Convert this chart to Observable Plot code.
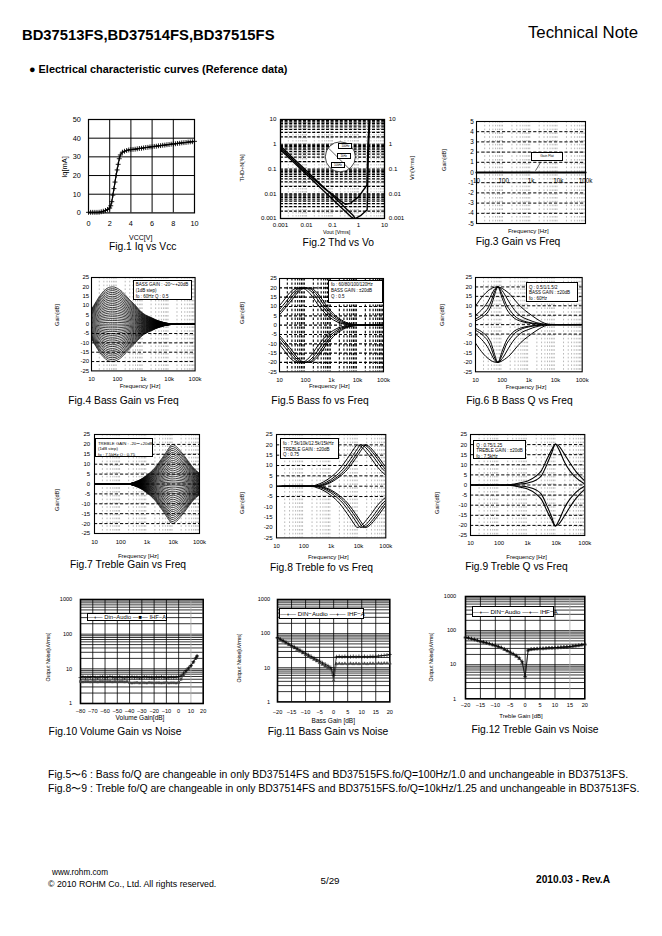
<!DOCTYPE html>
<html><head><meta charset="utf-8">
<script src="https://cdn.jsdelivr.net/npm/d3@7"></script>
<script src="https://cdn.jsdelivr.net/npm/@observablehq/plot@0.6"></script>
<style>
body{margin:0;background:#fff;}
#page{position:relative;width:662px;height:936px;overflow:hidden;font-family:"Liberation Sans",Arial,sans-serif;color:#000;background:#fff;}
.t{position:absolute;white-space:nowrap;line-height:1;}
.lg{position:absolute;background:#fff;border:0.8px solid #000;box-sizing:border-box;line-height:1.3;padding:1.5px 2px;white-space:nowrap;font-family:"Liberation Sans",Arial,sans-serif;}
</style></head><body><div id="page"></div>
<script>
// ================= DATA =================
// Fig.1 Iq vs Vcc
const vcc = [0,0.2,0.4,0.6,0.8,1,1.2,1.4,1.6,1.8,2,2.1,2.2,2.3,2.4,2.5,2.6,2.7,2.8,2.9,3,3.2,3.4,3.6,3.8,4,4.2,4.4,4.6,4.8,5,5.2,5.4,5.6,5.8,6,6.2,6.4,6.6,6.8,7,7.2,7.4,7.6,7.8,8,8.2,8.4,8.6,8.8,9,9.2,9.4,9.6,9.8,10];
const iq  = [0.3,0.3,0.3,0.3,0.3,0.35,0.6,0.9,1.3,1.8,2.6,3.8,6,9.5,13,16.5,20,23,26,29,31,32.5,33,33.4,33.7,33.9,34.0,34.1,34.3,34.5,34.6,34.8,35.0,35.1,35.3,35.4,35.6,35.7,35.9,36.0,36.2,36.3,36.5,36.6,36.8,36.9,37.0,37.2,37.3,37.5,37.6,37.7,37.9,38.0,38.1,38.3];

// Fig.2 THD+N vs Vout (three curves)
const thdAx = [0.001,0.003,0.01,0.03,0.1,0.3,0.6,0.75,1.2,1.8,2.15,2.4,2.7];
const thdAy = [0.85,0.28,0.085,0.028,0.0085,0.0028,0.0014,0.001,0.0013,0.0019,0.0022,0.5,10];
const thdBx = [0.001,0.01,0.1,0.5,0.66];
const thdBy = [0.6,0.06,0.006,0.0012,0.001];
const thdCx = [0.001,0.01,0.05,0.1,0.2,0.32,0.5,1,2.1,2.3,2.6];
const thdCy = [0.7,0.07,0.016,0.0095,0.0052,0.0037,0.0042,0.0075,0.022,1,10];
const logTicks = [0.001,0.01,0.1,1,10];
const logTickLabels = ["0.001","0.01","0.1","1","10"];
const thdNotes = [{x:0.33,y:0.86,t:"100Hz"},{x:0.28,y:0.34,t:"1kHz"},{x:0.17,y:0.148,t:"10kHz"}];
const thdCircle = [{x:0.2,y:0.31}];
const thdSlash = [{x1:0.072,y1:0.68,x2:0.57,y2:0.077}];

// Fig.3 Gain vs Freq (flat)
const flatF = [10,100,1000,10000,100000];
const flatG = [0,0,0,0,0];
const flatPointer = [{x1:1460,y1:0.17,x2:2240,y2:0.98}];

// frequency axis
const freqTicks = [10,100,1000,10000,100000];
const freqLabels = ["10","100","1k","10k","100k"];

// Fig.4 Bass gain (+20 dB envelope, fo 60Hz, Q 0.5), gain steps -20..+20
const bassGainF   = [10,15,20,30,40,50,65,80,100,150,200,300,450,800,1200,2000,3000,5000,7000,10000,20000,100000];
const bassGainEnv = [8,12,14.8,17.8,19.2,19.8,20,19.8,19.2,17.5,15.7,13,10.7,6.8,5,3.6,2.4,1.3,0.7,0.3,0,0];
const bassSteps = [-20,-19,-18,-17,-16,-15,-14,-13,-12,-11,-10,-9,-8,-7,-6,-5,-4,-3,-2,-1,0,1,2,3,4,5,6,7,8,9,10,11,12,13,14,15,16,17,18,19,20];

// Fig.5 Bass fo (shape vs f/fo at +20 dB)
const bassFoList  = [60,80,100,120];
const bassFoRatio = [0.05,0.083,0.1,0.167,0.25,0.33,0.5,0.7,1,1.4,2,3,5,8,12,20,30,50,100,1000,3000];
const bassFoEnv   = [3,5.5,6.8,10.5,13.5,15.8,18.5,19.7,20,19.7,18.3,15.5,11,7.5,5,2.8,1.5,0.6,0.1,0,0];

// Fig.6 Bass Q (fo 60Hz)
const bassQF  = [10,20,30,40,50,69,100,150,200,300,500,1000,2000,3000,5000,10000,100000];
const bassQ05 = [9.8,15.6,18,19.2,19.8,20,19.2,17.5,16,13,9.5,6,3,1.5,0.3,0,0];
const bassQ1  = [5,9,12.5,16,18.5,20,18,14,11,7.5,4.5,2.5,1,0.5,0.1,0,0];
const bassQ15 = [3,6,9,13,17,20,16,10,7.5,4.5,2.5,1.2,0.5,0.2,0,0,0];
const bassQ2  = [2,4.5,7,10.5,15,20,14,8,5.5,3.2,1.8,0.8,0.3,0.1,0,0,0];

// Fig.7 Treble gain (+20 dB envelope, fo 7.5kHz, Q 0.75)
const trebF   = [10,100,200,300,500,1000,2000,3000,5000,7000,9000,12000,20000,30000,50000,100000];
const trebEnv = [0,0,0.1,0.7,1.9,4.5,8.2,11.2,15.4,18.3,20,19.3,16.2,13.2,9.2,5.3];
const trebSteps = bassSteps;

// Fig.8 Treble fo (shape vs f/fo)
const trebFoList  = [7500,10000,12500,15000];
const trebFoRatio = [0.0013,0.0133,0.0267,0.04,0.0667,0.133,0.267,0.4,0.667,0.933,1.2,1.6,2.67,4,6.67,13.3,20,30];
const trebFoEnv   = [0,0,0.1,0.7,1.9,4.5,8.2,11.2,15.4,18.3,20,19.3,16.2,13.2,9.2,5.3,3.5,2];

// Fig.9 Treble Q (fo 7.5kHz)
const trebQF   = [10,100,200,300,500,1000,2000,3000,5000,7000,9400,12000,20000,30000,50000,100000];
const trebQ075 = [0,0,0.1,0.3,1,2,4.5,7,13.5,17.5,20.3,19.5,15,11,6.5,2];
const trebQ125 = [0,0,0,0.1,0.5,1,2.5,4.5,11,16,20.3,18,11,7,3.5,0.5];

// Fig.10 Volume gain vs noise
const volX = [-80,-78,-76,-74,-72,-70,-68,-66,-64,-62,-60,-58,-56,-54,-52,-50,-48,-46,-44,-42,-40,-38,-36,-34,-32,-30,-28,-26,-24,-22,-20,-18,-16,-14,-12,-10,-8,-6,-4,-2,0,2,4,6,8,10,12,14,15];
const volDin = [5.6,5.8,5.5,5.7,5.6,5.9,5.6,5.5,5.7,5.8,5.6,5.6,5.9,5.7,5.5,5.6,5.8,5.6,5.5,5.7,
                5.6,5.8,5.6,5.7,5.5,5.6,5.8,5.7,5.6,5.6,5.5,5.7,5.6,5.8,5.6,5.5,5.6,5.7,5.6,5.7,
                5.8,6.3,7.5,9.0,10.7,12.5,16,20.5,23.5];
const volIhf = [4.3,4.2,4.3,4.3,4.2,4.3,4.3,4.2,4.3,4.3,4.2,4.3,4.3,4.2,4.3,4.2,4.3,4.3,4.2,4.3,
                3.95,3.9,3.95,4.0,3.9,3.95,3.95,3.9,4.0,3.95,3.9,3.95,3.95,3.9,3.95,4.0,3.9,3.95,3.95,3.9,
                4.0,5.0,6.5,8.2,10,12,15.5,20,23];

// Fig.11 / Fig.12 tone gain vs noise
const toneX = [-20,-19,-18,-17,-16,-15,-14,-13,-12,-11,-10,-9,-8,-7,-6,-5,-4,-3,-2,-1,0,1,2,3,4,5,6,7,8,9,10,11,12,13,14,15,16,17,18,19,20];
const bassDin = [77,69,62,56,50,45,41,36.5,33,29.5,26.5,24,21.5,19.4,17.4,15.7,14,12.7,11.4,10.2,6,
                 21,21.5,21,21.5,21,21,21.5,21,21.5,21,21.5,21,21.5,21.5,21.5,22,22.5,23,23.5,24.5];
const bassIhf = [76,67,60,53,47.5,42.5,38,34,30.5,27,24,21.5,19.5,17.5,15.7,14,12.5,11.2,10,9.2,4.2,
                 13,13.2,13,13.2,13,13.3,13,13.2,13,13.3,13.2,13,13.3,13.2,13.3,13.5,13.3,13.5,13.4,13.6];
const trebDin = [64,61,58,55,52,49,46.5,44,41.5,39,37,34.5,32,29,26,23.5,21,18.5,16,12.5,4.5,
                 27,28.5,29,29.5,30,30,30.5,31,31,31.5,32,32.5,33,33.5,34,35,36,37,38.5,40];
const trebIhf = [63,60,57,54,51,48,45.5,43,40.5,38,36,33.5,31,28,25,22.5,20,17.5,15,11.5,4.2,
                 26.5,28,28.5,29,29.5,29.5,30,30.5,30.5,31,31.5,32,32.5,33,33.5,34.5,35.5,36.5,38,39.5];

// ================= HELPERS =================
const FONT = '"Liberation Sans", Arial, Helvetica, sans-serif';
const page = document.getElementById('page');

function txt(s, x, y, o = {}) {
  const d = document.createElement('div');
  d.className = 't';
  d.textContent = s;
  d.style.left = x + 'px'; d.style.top = y + 'px';
  d.style.fontSize = (o.size || 9) + 'px';
  if (o.bold) d.style.fontWeight = 'bold';
  if (o.family) d.style.fontFamily = o.family;
  const a = o.anchor || 'c';
  d.style.transform = o.rot ? 'translate(-50%,-50%) rotate(-90deg)'
    : a === 'l' ? 'translate(0,-50%)' : a === 'r' ? 'translate(-100%,-50%)' : 'translate(-50%,-50%)';
  page.appendChild(d); return d;
}
function legend(lines, x0, y0, x1, y1, size, center) {
  const d = document.createElement('div'); d.className = 'lg';
  d.style.left = x0 + 'px'; d.style.top = y0 + 'px';
  d.style.width = (x1 - x0) + 'px'; d.style.height = (y1 - y0) + 'px';
  d.style.fontSize = size + 'px';
  if (center) { d.style.textAlign = 'center'; d.style.padding = '0'; d.style.lineHeight = (y1 - y0 - 1.6) + 'px'; }
  lines.forEach(l => { const s = document.createElement('div'); s.textContent = l; d.appendChild(s); });
  page.appendChild(d); return d;
}
const M = 30, T = 8, B = 24;
function place(fr, opts) {
  const [x0, y0, x1, y1] = fr;
  const svg = Plot.plot({
    width: (x1 - x0) + 2 * M, height: (y1 - y0) + T + B,
    marginLeft: M, marginRight: M, marginTop: T, marginBottom: B,
    style: {fontFamily: FONT, background: 'transparent', overflow: 'visible'},
    ...opts
  });
  svg.style.position = 'absolute';
  svg.style.left = (x0 - M) + 'px'; svg.style.top = (y0 - T) + 'px';
  svg.style.maxWidth = 'none';
  page.appendChild(svg);
  return {svg, ox: x0 - M, oy: y0 - T};
}
const fmtF = d => freqLabels[freqTicks.indexOf(d)];
const minorF = [];
for (let e = 1; e < 5; e++) for (let k = 2; k < 10; k++) minorF.push(k * 10 ** e);
const greyV = {stroke: '#8a8a8a', strokeWidth: 0.6, strokeDasharray: '1.6,2.2'};
const blackH = {stroke: 'black', strokeWidth: 1, strokeDasharray: '3.2,2'};

function eqChart(fr, {series, hgrid, hstyle = blackH, vstyle = greyV, xpad, ypad, sw = 0.9}) {
  return place(fr, {
    x: {type: 'log', domain: [10, 1e5]}, y: {domain: [-25, 25]},
    marks: [
      Plot.ruleX(minorF, vstyle),
      Plot.ruleY(hgrid, hstyle),
      Plot.line(series, {x: 'f', y: 'v', z: 'k', stroke: 'black', strokeWidth: sw, curve: 'monotone-x', clip: true}),
      Plot.frame({stroke: 'black', strokeWidth: 1.1}),
      Plot.axisX(freqTicks, {tickFormat: fmtF, tickSize: 0, tickPadding: xpad, fontSize: 6, label: null}),
      Plot.axisY([-25,-20,-15,-10,-5,0,5,10,15,20,25], {tickFormat: d => String(d), tickSize: 0, tickPadding: ypad, fontSize: 6, label: null})
    ]
  });
}
const CAP = 10.3;

// ================= HEADER =================
txt('BD37513FS,BD37514FS,BD37515FS', 22, 35, {size: 14.8, bold: true, anchor: 'l'});
txt('Technical Note', 638, 33, {size: 16.8, anchor: 'r'});
txt('● Electrical characteristic curves (Reference data)', 29, 69, {size: 10.9, bold: true, anchor: 'l'});

// ================= Fig.1 =================
{
  const rows = vcc.map((v, i) => ({v, q: iq[i]}));
  place([88.3, 119.3, 194.3, 212.7], {
    x: {domain: [0, 10]}, y: {domain: [0, 50]},
    marks: [
      Plot.ruleX([2, 4, 6, 8], {stroke: 'black', strokeWidth: 1}),
      Plot.ruleY([10, 20, 30, 40], {stroke: 'black', strokeWidth: 1}),
      Plot.frame({stroke: 'black', strokeWidth: 1.2}),
      Plot.line(rows, {x: 'v', y: 'q', stroke: 'black', strokeWidth: 1.2}),
      Plot.dot(rows, {x: 'v', y: 'q', symbol: 'plus', r: 1.7, stroke: 'black', strokeWidth: 0.9}),
      Plot.axisX([0, 2, 4, 6, 8, 10], {tickSize: 0, tickPadding: 7.5, fontSize: 7.3, label: null}),
      Plot.axisY([0, 10, 20, 30, 40, 50], {tickSize: 0, tickPadding: 7.6, fontSize: 7.3, label: null})
    ]
  });
  txt('Iq[mA]', 65, 166.7, {size: 7.5, rot: true});
  txt('VCC[V]', 140.7, 236.8, {size: 7});
  txt('Fig.1 Iq vs Vcc', 142.7, 246.8, {size: CAP});
}

// ================= Fig.2 =================
{
  const mk = (xs, ys, k) => xs.map((x, i) => ({x, y: ys[i], k}));
  const rows = [...mk(thdAx, thdAy, 'A'), ...mk(thdBx, thdBy, 'B'), ...mk(thdCx, thdCy, 'C')];
  const minor = [];
  for (let e = -3; e < 1; e++) for (let k = 1; k < 10; k++) minor.push(k * 10 ** e);
  const lab = new Map(logTicks.map((t, i) => [t, logTickLabels[i]]));
  const p = place([280, 119.3, 384, 218.3], {
    x: {type: 'log', domain: [0.001, 10]}, y: {type: 'log', domain: [0.001, 10]},
    marks: [
      Plot.ruleX(minor, {stroke: '#8a8a8a', strokeWidth: 0.5, strokeDasharray: '1.5,1.5'}),
      Plot.ruleY(minor, {stroke: 'black', strokeWidth: 1.2, strokeDasharray: '3,1.6'}),
      Plot.dot(thdCircle, {x: 'x', y: 'y', r: 15, fill: 'white', stroke: 'black', strokeWidth: 0.7}),
      Plot.link(thdSlash, {x1: 'x1', y1: 'y1', x2: 'x2', y2: 'y2', stroke: 'black', strokeWidth: 0.6}),
      Plot.line(rows, {x: 'x', y: 'y', z: 'k', stroke: 'black', strokeWidth: 1.4, clip: true}),
      Plot.frame({stroke: 'black', strokeWidth: 1.3}),
      Plot.axisX(logTicks, {tickFormat: d => lab.get(d), tickSize: 0, tickPadding: 3.6, fontSize: 6.2, label: null}),
      Plot.axisY(logTicks, {tickFormat: d => lab.get(d), tickSize: 0, tickPadding: 4, fontSize: 6.2, label: null}),
      Plot.axisY(logTicks, {anchor: 'right', tickFormat: d => lab.get(d), tickSize: 0, tickPadding: 4.3, fontSize: 6.2, label: null})
    ]
  });
  const sx = p.svg.scale('x'), sy = p.svg.scale('y');
  thdNotes.forEach(n => {
    const cx = p.ox + sx.apply(n.x), cy = p.oy + sy.apply(n.y);
    legend([n.t], cx - 7, cy - 3, cx + 7, cy + 3, 2.8, true);
  });
  txt('THD+N[%]', 243.3, 168.3, {size: 5.6, rot: true});
  txt('Vin[Vrms]', 412.7, 168.3, {size: 5.6, rot: true});
  txt('Vout [Vrms]', 336.7, 232.6, {size: 5.3});
  txt('Fig.2 Thd vs Vo', 338.3, 242.6, {size: CAP});
}

// ================= Fig.3 =================
{
  const rows = flatF.map((f, i) => ({f, g: flatG[i]}));
  place([476, 120.7, 585, 222.7], {
    x: {type: 'log', domain: [10, 1e5]}, y: {domain: [-5, 5]},
    marks: [
      Plot.ruleX(minorF, greyV),
      Plot.ruleY([-4,-3,-2,-1,1,2,3,4], blackH),
      Plot.link(flatPointer, {x1: 'x1', y1: 'y1', x2: 'x2', y2: 'y2', stroke: 'black', strokeWidth: 0.6}),
      Plot.line(rows, {x: 'f', y: 'g', stroke: 'black', strokeWidth: 2.2}),
      Plot.frame({stroke: 'black', strokeWidth: 1.1}),
      Plot.axisX(freqTicks, {tickFormat: fmtF, tickSize: 0, tickPadding: 0, dy: -45, fontSize: 6.3, label: null}),
      Plot.axisY([-5,-4,-3,-2,-1,0,1,2,3,4,5], {tickFormat: d => String(d), tickSize: 0, tickPadding: 2.7, fontSize: 6.3, label: null})
    ]
  });
  legend(['Gain Flat'], 531, 152, 563, 161, 3.3, true);
  txt('Gain[dB]', 445, 160, {size: 5.6, rot: true});
  txt('Frequency [Hz]', 528.3, 231.2, {size: 6});
  txt('Fig.3 Gain vs Freq', 518, 242.3, {size: CAP});
}

// ================= Fig.4 =================
{
  const series = [];
  bassSteps.forEach(g => bassGainF.forEach((f, i) => series.push({f, v: bassGainEnv[i] * g / 20, k: g})));
  eqChart([90.7, 277.3, 194.3, 370.7], {series, hgrid: [-5,-10,-15,-20], xpad: 6, ypad: 2.4, sw: 0.75});
  legend(['BASS GAIN : -20〜+20dB', '      (1dB step)', 'fo : 60Hz      Q : 0.5'], 132.7, 279.7, 191.7, 300.3, 4.5);
  txt('Gain[dB]', 58.3, 314.7, {size: 5.6, rot: true});
  txt('Frequency [Hz]', 140, 386.3, {size: 6});
  txt('Fig.4 Bass Gain vs Freq', 123.5, 401, {size: CAP});
}

// ================= Fig.5 =================
{
  const series = [];
  bassFoList.forEach(fo => [1, -1].forEach(s => bassFoRatio.forEach((r, i) =>
    series.push({f: r * fo, v: s * bassFoEnv[i], k: fo + '_' + s}))));
  eqChart([279.3, 278, 383.3, 371.3], {
    series, hgrid: [-20,-15,-10,-5,0,5,10,15,20],
    hstyle: {stroke: 'black', strokeWidth: 1.2, strokeDasharray: '3,2'},
    vstyle: {stroke: 'black', strokeWidth: 1.1, strokeDasharray: '2.4,2'},
    xpad: 6.4, ypad: 2.6, sw: 1.0
  });
  legend(['fo : 60/80/100/120Hz', 'BASS GAIN : ±20dB', 'Q : 0.5'], 328, 279.7, 383, 303, 4.5);
  txt('Gain[dB]', 243.3, 313, {size: 5.6, rot: true});
  txt('Frequency [Hz]', 329.3, 386.3, {size: 6});
  txt('Fig.5 Bass fo vs Freq', 320, 401, {size: CAP});
}

// ================= Fig.6 =================
{
  const series = [];
  [[bassQ05, '0.5'], [bassQ1, '1'], [bassQ15, '1.5'], [bassQ2, '2']].forEach(([arr, q]) =>
    [1, -1].forEach(s => bassQF.forEach((f, i) => series.push({f, v: s * arr[i], k: q + '_' + s}))));
  eqChart([475, 277, 581.7, 371.3], {series, hgrid: [20, 15, 10, 5, 0, -5], xpad: 6, ypad: 3.3, sw: 1.0});
  legend(['Q : 0.5/1/1.5/2', 'BASS GAIN : ±20dB', 'fo : 60Hz'], 526, 282, 578, 302, 4.5);
  txt('Gain[dB]', 443.3, 314.7, {size: 5.6, rot: true});
  txt('Frequency [Hz]', 526, 387, {size: 6});
  txt('Fig.6 B Bass Q vs Freq', 519.5, 400.5, {size: CAP});
}

// ================= Fig.7 =================
{
  const series = [];
  trebSteps.forEach(g => trebF.forEach((f, i) => series.push({f, v: trebEnv[i] * g / 20, k: g})));
  eqChart([94.3, 434.3, 199.3, 533.3], {series, hgrid: [20,15,10,5,0,-5,-10,-15,-20], xpad: 6, ypad: 4.3, sw: 0.75});
  legend(['TREBLE GAIN : -20〜+20dB', '      (1dB step)', 'fo : 7.5kHz      Q : 0.75'], 95, 438.3, 153.3, 456.7, 4.3);
  txt('Gain[dB]', 58.3, 500, {size: 5.6, rot: true});
  txt('Frequency [Hz]', 138.3, 555.7, {size: 6});
  txt('Fig.7 Treble Gain vs Freq', 128, 564.5, {size: CAP});
}

// ================= Fig.8 =================
{
  const series = [];
  trebFoList.forEach(fo => [1, -1].forEach(s => trebFoRatio.forEach((r, i) =>
    series.push({f: r * fo, v: s * trebFoEnv[i], k: fo + '_' + s}))));
  eqChart([275.7, 434.3, 385, 537.7], {series, hgrid: [20, 15, 10, 5, 0, -5], xpad: 6, ypad: 4, sw: 1.0});
  legend(['fo : 7.5k/10k/12.5k/15kHz', 'TREBLE GAIN : ±20dB', 'Q : 0.75'], 280, 438.3, 339, 459.3, 4.5);
  txt('Gain[dB]', 243.3, 503.3, {size: 5.6, rot: true});
  txt('Frequency [Hz]', 328.3, 556.7, {size: 6});
  txt('Fig.8 Treble fo vs Freq', 321.5, 567.5, {size: CAP});
}

// ================= Fig.9 =================
{
  const series = [];
  [[trebQ075, '0.75'], [trebQ125, '1.25']].forEach(([arr, q]) =>
    [1, -1].forEach(s => trebQF.forEach((f, i) => series.push({f, v: s * arr[i], k: q + '_' + s}))));
  eqChart([470, 434, 584.3, 535], {series, hgrid: [20,15,10,5,0,-5,-10,-15,-20], xpad: 5.3, ypad: 3.3, sw: 1.1});
  legend(['Q : 0.75/1.25', 'TREBLE GAIN : ±20dB', 'fo : 7.5kHz'], 473.3, 440, 526, 459, 4.5);
  txt('Gain[dB]', 438.3, 503.3, {size: 5.6, rot: true});
  txt('Frequency [Hz]', 526.7, 556.7, {size: 6});
  txt('Fig.9 Treble Q vs Freq', 516.5, 566.5, {size: CAP});
}

// ================= Fig.10-12 =================
const minorN = [];
for (let e = 0; e < 3; e++) for (let k = 1; k < 10; k++) if (!(e === 0 && k === 1)) minorN.push(k * 10 ** e);
function noiseChart(fr, {xdom, xticks, gridX, greyX, xs, din, ihf, ihfSymbol, xpad, ypad}) {
  const rows = xs.map((x, i) => ({x, din: din[i], ihf: ihf[i]}));
  return place(fr, {
    x: {domain: xdom}, y: {type: 'log', domain: [1, 1000]},
    marks: [
      Plot.ruleY(minorN, {stroke: 'black', strokeWidth: 0.8}),
      Plot.ruleX(gridX, {stroke: 'black', strokeWidth: 0.8}),
      Plot.ruleX(greyX, {stroke: '#aaa', strokeWidth: 0.8}),
      Plot.frame({stroke: 'black', strokeWidth: 1.6}),
      Plot.line(rows, {x: 'x', y: 'ihf', stroke: '#333', strokeWidth: 0.7}),
      Plot.dot(rows, {x: 'x', y: 'ihf', symbol: ihfSymbol, r: 1.2, fill: '#444', stroke: '#444', strokeWidth: 0.4}),
      Plot.line(rows, {x: 'x', y: 'din', stroke: 'black', strokeWidth: 0.7}),
      Plot.dot(rows, {x: 'x', y: 'din', symbol: 'plus', r: 1.4, stroke: 'black', strokeWidth: 0.6}),
      Plot.axisX(xticks, {tickSize: 0, tickPadding: xpad, fontSize: 5.6, label: null}),
      Plot.axisY([1, 10, 100, 1000], {tickFormat: d => String(d), tickSize: 0, tickPadding: ypad, fontSize: 5.6, label: null})
    ]
  });
}
{
  noiseChart([80, 599.3, 202.7, 703.3], {
    xdom: [-80, 20], xticks: [-80,-70,-60,-50,-40,-30,-20,-10,0,10,20],
    gridX: [-70,-60,-50,-40,-30,-20,-10,0], greyX: [10],
    xs: volX, din: volDin, ihf: volIhf, ihfSymbol: 'square', xpad: 6, ypad: 8.3
  });
  legend(['—+— Din−Audio  —■— IHF−A'], 86.7, 612.7, 166.7, 620.7, 5.8, true);
  txt('Output Noise[uVrms]', 49, 656.7, {size: 5.3, rot: true});
  txt('Volume Gain[dB]', 140, 717.7, {size: 6.5});
  txt('Fig.10 Volume Gain vs Noise', 115, 732.3, {size: CAP});

  noiseChart([276.7, 599.3, 389, 701.7], {
    xdom: [-20, 20], xticks: [-20,-15,-10,-5,0,5,10,15,20],
    gridX: [-15,-10,-5,0,5,10,15], greyX: [],
    xs: toneX, din: bassDin, ihf: bassIhf, ihfSymbol: 'triangle', xpad: 7.7, ypad: 7.4
  });
  legend(['—+— DIN−Audio  —+— IHF−A'], 279, 608.3, 364.3, 619.3, 6.2, true);
  txt('Output Noise[uVrms]', 240, 658.3, {size: 5.3, rot: true});
  txt('Bass Gain [dB]', 333.3, 721.3, {size: 6.5});
  txt('Fig.11 Bass Gain vs Noise', 328, 732.3, {size: CAP});

  noiseChart([465, 596, 584.3, 698.3], {
    xdom: [-20, 20], xticks: [-20,-15,-10,-5,0,5,10,15,20],
    gridX: [-15,-10,-5,0,5,10], greyX: [15],
    xs: toneX, din: trebDin, ihf: trebIhf, ihfSymbol: 'triangle', xpad: 4.5, ypad: 9.3
  });
  legend(['—+— DIN−Audio  —+— IHF−A'], 471.7, 605.7, 554.3, 616.7, 6.2, true);
  txt('Output Noise[uVrms]', 431.7, 656.7, {size: 5.3, rot: true});
  txt('Treble Gain [dB]', 521, 716, {size: 6});
  txt('Fig.12 Treble Gain vs Noise', 535, 730, {size: CAP});
}

// ================= NOTES & FOOTER =================
txt('Fig.5〜6 : Bass fo/Q are changeable in only BD37514FS and BD37515FS.fo/Q=100Hz/1.0 and unchangeable in BD37513FS.', 48, 775, {size: 10.45, anchor: 'l'});
txt('Fig.8〜9 : Treble fo/Q are changeable in only BD37514FS and BD37515FS.fo/Q=10kHz/1.25 and unchangeable in BD37513FS.', 48, 789, {size: 10.45, anchor: 'l'});
txt('www.rohm.com', 52, 873, {size: 8.2, anchor: 'l'});
txt('© 2010 ROHM Co., Ltd. All rights reserved.', 48, 884, {size: 8.8, anchor: 'l'});
txt('5/29', 330, 881, {size: 9.8});
txt('2010.03  -  Rev.A', 610, 880, {size: 10.2, bold: true, anchor: 'r'});
</script></body></html>
